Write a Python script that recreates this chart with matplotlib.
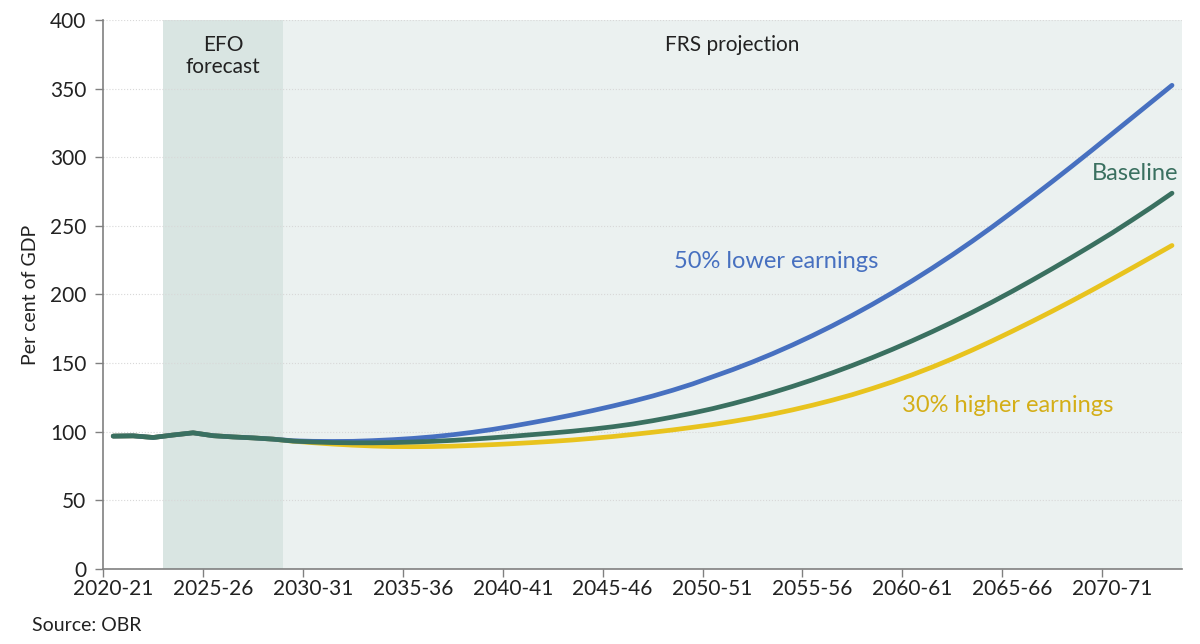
import numpy as np
import matplotlib
matplotlib.use("Agg")
import matplotlib.pyplot as plt
from matplotlib.ticker import FixedLocator

plt.rcParams['font.family'] = ['Lato', 'DejaVu Sans']

# financial years 2020-21 .. 2073-74
years = ["%d-%02d" % (y, (y + 1) % 100) for y in range(2020, 2074)]

# shared EFO forecast period (2020-21 .. 2028-29)
common = [96.8, 97.0, 95.8, 97.6, 99.2, 97.1, 96.2, 95.5, 94.6]

lower_50 = common + [93.4, 93.0, 92.9, 93.0, 93.5, 94.2, 95.1, 96.3, 97.8, 99.6,
                     101.7, 104.1, 106.7, 109.4, 112.3, 115.4, 118.7, 122.2, 126.0, 130.2,
                     134.8, 140.0, 145.2, 150.8, 156.8, 163.2, 170.0, 177.2, 184.8, 192.8,
                     201.2, 210.0, 219.2, 228.8, 238.8, 249.2, 260.0, 271.0, 282.2, 293.6,
                     305.2, 317.0, 328.8, 340.6, 352.4]

baseline = common + [93.2, 92.5, 92.1, 91.9, 91.9, 92.1, 92.5, 93.0, 93.7, 94.6,
                     95.6, 96.7, 97.9, 99.1, 100.4, 101.9, 103.6, 105.6, 108.0, 110.7,
                     113.6, 116.8, 120.4, 124.3, 128.5, 133.0, 137.8, 142.9, 148.3, 154.0,
                     160.0, 166.3, 172.9, 179.8, 187.0, 194.5, 202.3, 210.4, 218.7, 227.2,
                     235.9, 244.8, 254.2, 263.8, 273.8]

higher_30 = common + [93.1, 92.0, 91.0, 90.2, 89.6, 89.2, 89.1, 89.2, 89.5, 90.0,
                      90.6, 91.3, 92.1, 93.0, 94.0, 95.2, 96.5, 98.0, 99.6, 101.3,
                      103.2, 105.2, 107.5, 110.0, 112.8, 115.9, 119.3, 123.0, 127.0, 131.5,
                      136.3, 141.5, 147.1, 153.1, 159.5, 166.2, 173.2, 180.4, 187.8, 195.4,
                      203.2, 211.2, 219.3, 227.5, 235.7]

blue = '#4770C0'
green = '#3A7060'
gold = '#E8C31E'

x = np.arange(len(years))

fig = plt.figure(figsize=(12, 6.44), dpi=100)
ax = fig.add_axes([0.086, 0.1165, 0.899, 0.8525])

# shaded periods
ax.axvspan(2.5, 8.5, color='#D9E5E2', lw=0, zorder=0)
ax.axvspan(8.5, len(years) - 0.5, color='#EBF1F0', lw=0, zorder=0)

ax.plot(x, higher_30, color=gold, lw=3.4, solid_capstyle='round', zorder=3)
ax.plot(x, lower_50, color=blue, lw=3.4, solid_capstyle='round', zorder=3)
ax.plot(x, baseline, color=green, lw=3.4, solid_capstyle='round', zorder=4)

ax.set_xlim(-0.5, len(years) - 0.5)
ax.set_ylim(0, 400)
ax.set_yticks(range(0, 401, 50))

# ticks between categories, labels centred on categories
ax.xaxis.set_major_locator(FixedLocator(np.arange(-0.5, len(years), 5)))
ax.xaxis.set_minor_locator(FixedLocator(x[::5]))
ax.set_xticklabels([])
ax.set_xticklabels(years[::5], minor=True)
ax.tick_params(axis='x', which='major', length=6, color='#808080', width=1)
ax.tick_params(axis='x', which='minor', length=0, labelsize=15, pad=7, labelcolor='#222222')
ax.tick_params(axis='y', length=6, color='#808080', width=1, labelsize=15, pad=6, labelcolor='#222222')

ax.grid(axis='y', color='#D8D8D8', linestyle=':', linewidth=0.8, zorder=1)
ax.set_axisbelow(True)
for s in ['top', 'right']:
    ax.spines[s].set_visible(False)
for s in ['left', 'bottom']:
    ax.spines[s].set_color('#808080')
    ax.spines[s].set_linewidth(1.2)

ax.set_ylabel('Per cent of GDP', fontsize=14, color='#222222', labelpad=8)

ax.text(5.5, 389, 'EFO\nforecast', ha='center', va='top', fontsize=15,
        color='#222222', linespacing=1.15)
ax.text(31, 382, 'FRS projection', ha='center', va='center', fontsize=15, color='#222222')
ax.text(33.2, 224, '50% lower earnings', ha='center', va='center', fontsize=17, color=blue)
ax.text(53.3, 288, 'Baseline', ha='right', va='center', fontsize=17, color=green)
ax.text(44.75, 119, '30% higher earnings', ha='center', va='center', fontsize=17, color='#D4AE17')

fig.text(0.027, 0.02, 'Source: OBR', fontsize=14, color='#222222')

fig.savefig('out.png', dpi=100)
